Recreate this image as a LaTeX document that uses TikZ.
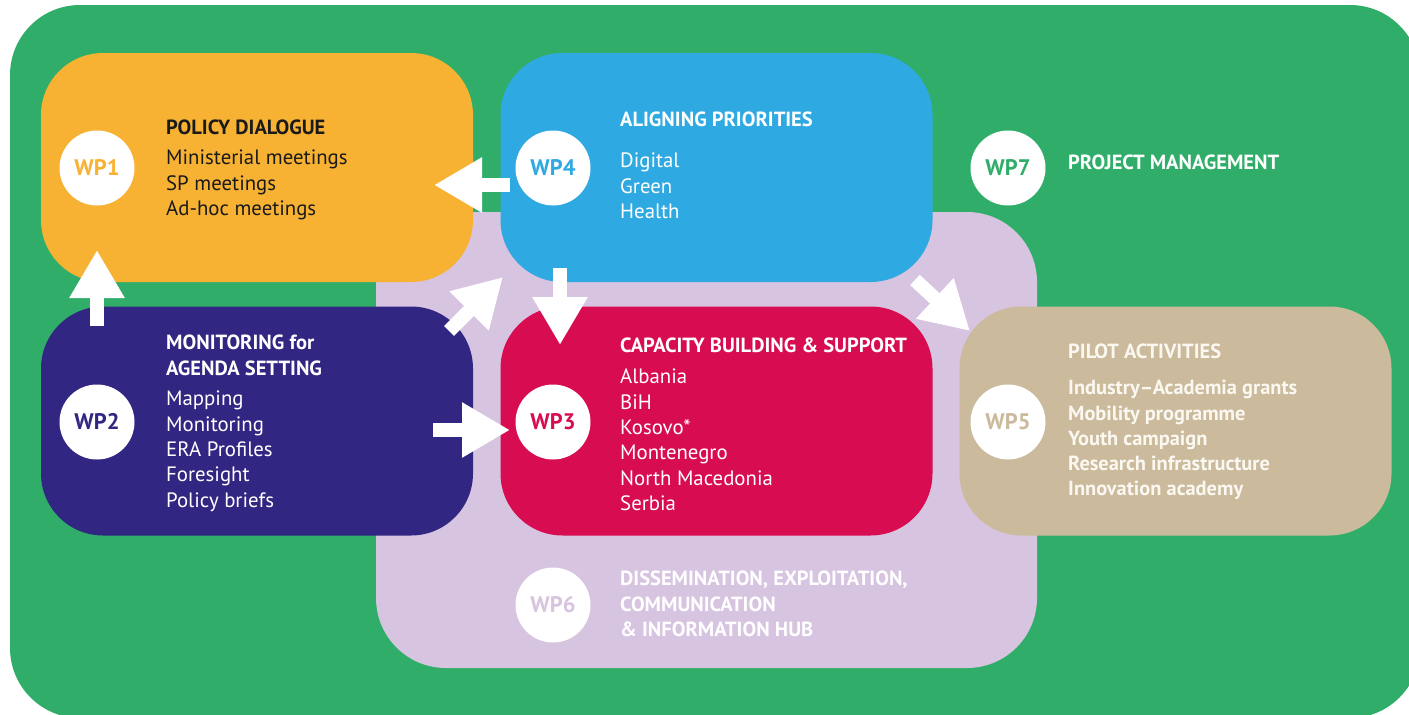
\documentclass[tikz,border=0pt]{standalone}
\usepackage{fontspec}
\setmainfont{PT Sans}
\usetikzlibrary{arrows.meta}
\definecolor{bggreen}{HTML}{31AD6A}
\definecolor{wporange}{HTML}{F7B234}
\definecolor{wpblue}{HTML}{2FA9E1}
\definecolor{wplav}{HTML}{D7C4E0}
\definecolor{wpnavy}{HTML}{312783}
\definecolor{wpred}{HTML}{D80C51}
\definecolor{wptan}{HTML}{CBBA9C}
\definecolor{wpblack}{HTML}{1A1A1A}
\definecolor{offwhite}{HTML}{FBF8F2}
\tikzset{
  wpbox/.style={rectangle, rounded corners=62pt, minimum width=432pt, minimum height=229pt, inner sep=0pt},
  wpcirc/.style={circle, fill=white, minimum size=75pt, inner sep=0pt, font=\fontsize{22.5}{24}\selectfont\bfseries},
  head/.style={anchor=north west, inner sep=0pt, align=left, font=\fontsize{20.5}{25.3}\selectfont\bfseries},
  items/.style={anchor=north west, inner sep=0pt, align=left, font=\fontsize{20.8}{25.3}\selectfont},
  bolditems/.style={anchor=north west, inner sep=0pt, align=left, font=\fontsize{20.4}{25.3}\selectfont\bfseries},
  flow/.style={draw=white, line width=14pt, -{Triangle[width=52pt,length=48pt]}}
}
\begin{document}
\begin{tikzpicture}[x=1pt,y=-1pt]
\useasboundingbox (0,0) rectangle (1409,715);
\fill[white] (0,0) rectangle (1409,715);
\clip (0,0) rectangle (1409,715);
% background green (WP7)
\fill[bggreen, rounded corners=70pt] (10,5) rectangle (1420,718);
% lavender (WP6)
\node[wpbox, fill=wplav, rounded corners=70pt, minimum width=661pt, minimum height=456pt] (b6) at (706.5,440) {};
% boxes
\node[wpbox, fill=wporange] (b1) at (257,167.5) {};
\node[wpbox, fill=wpblue] (b4) at (716.5,167.5) {};
\node[wpbox, fill=wpnavy] (b2) at (257,421) {};
\node[wpbox, fill=wpred] (b3) at (716.5,421) {};
\node[wpbox, fill=wptan] (b5) at (1175.5,421) {};
% circles
\node[wpcirc, text=wporange] (c1) at (97,168) {WP1};
\node[wpcirc, text=wpblue] (c4) at (553,168) {WP4};
\node[wpcirc, text=bggreen] (c7) at (1008,168) {WP7};
\node[wpcirc, text=wpnavy] (c2) at (97,422) {WP2};
\node[wpcirc, text=wpred] (c3) at (553,422) {WP3};
\node[wpcirc, text=wptan] (c5) at (1008,422) {WP5};
\node[wpcirc, text=wplav] (c6) at (553,605) {WP6};
% texts
\node[head, text=wpblack] (h1) at (166,120) {POLICY DIALOGUE};
\node[items, text=wpblack] (l1) at (166,150) {Ministerial meetings\\SP meetings\\Ad-hoc meetings};
\node[head, text=white] (h4) at (620,112) {ALIGNING PRIORITIES};
\node[items, text=white] (l4) at (620,153) {Digital\\Green\\Health};
\node[head, text=white] (h7) at (1068,155) {PROJECT MANAGEMENT};
\node[head, text=white] (h2) at (166,335) {MONITORING for\\AGENDA SETTING};
\node[items, text=white] (l2) at (166,391) {Mapping\\Monitoring\\ERA Profiles\\Foresight\\Policy briefs};
\node[head, text=white] (h3) at (620,338) {CAPACITY BUILDING \& SUPPORT};
\node[items, text=white] (l3) at (620,369) {Albania\\BiH\\Kosovo*\\Montenegro\\North Macedonia\\Serbia};
\node[head, text=offwhite] (h5) at (1068,344) {PILOT ACTIVITIES};
\node[bolditems, text=offwhite] (l5) at (1068,380) {Industry--Academia grants\\Mobility programme\\Youth campaign\\Research infrastructure\\Innovation academy};
\node[head, text=white] (h6) at (620,571) {DISSEMINATION, EXPLOITATION,\\COMMUNICATION\\\& INFORMATION HUB};
% arrow endpoints
\coordinate (a41s) at (510,185);
\coordinate (a41e) at (434,185);
\coordinate (a21s) at (97,326);
\coordinate (a21e) at (97,250);
\coordinate (a24s) at (449,331);
\coordinate (a24e) at (503,277);
\coordinate (a43s) at (560,268);
\coordinate (a43e) at (560,345);
\coordinate (a23s) at (433,430);
\coordinate (a23e) at (510,430);
\coordinate (a45s) at (915,280);
\coordinate (a45e) at (970,331);
\draw[flow] (a41s) -- (a41e);
\draw[flow] (a21s) -- (a21e);
\draw[flow] (a24s) -- (a24e);
\draw[flow] (a43s) -- (a43e);
\draw[flow] (a23s) -- (a23e);
\draw[flow] (a45s) -- (a45e);
\end{tikzpicture}
\end{document}
